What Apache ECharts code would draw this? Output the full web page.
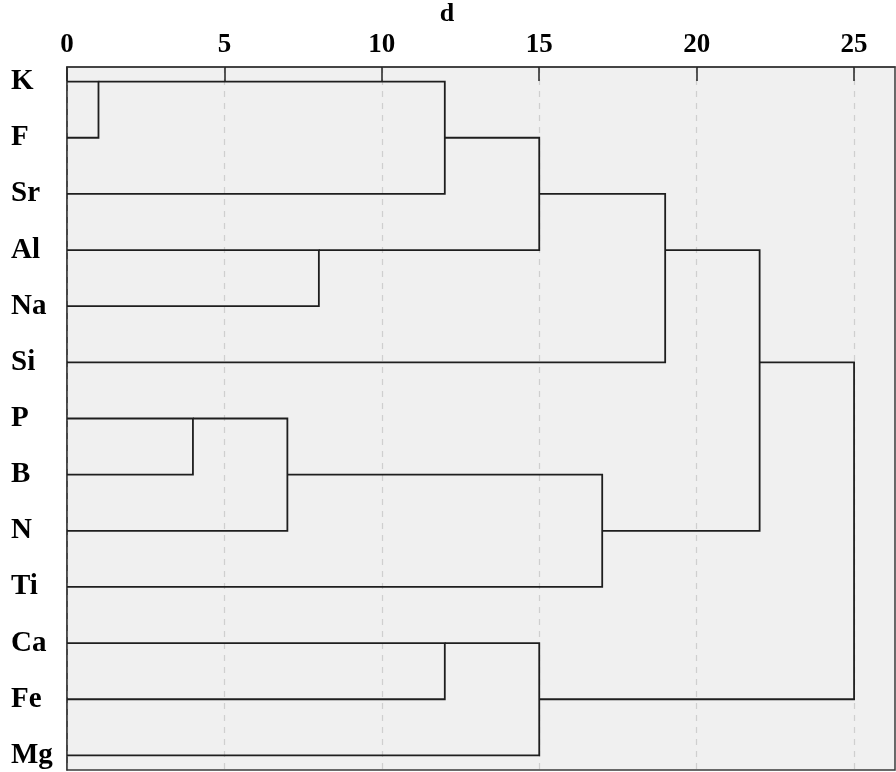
<!DOCTYPE html>
<html>
<head>
<meta charset="utf-8">
<script src="https://cdn.jsdelivr.net/npm/echarts@6/dist/echarts.min.js"></script>
<style>html,body{margin:0;padding:0;background:#fff;}#main{width:896px;height:772px;}</style>
</head>
<body>
<div id="main"></div>
<script>
// Leaves (top to bottom)
const categories = ['K','F','Sr','Al','Na','Si','P','B','N','Ti','Ca','Fe','Mg'];
// Merges: m0..m11
const mergeLeft   = ['K','m0','Al','m1','m3','P','m5','m6','m4','Ca','m9','m8'];
const mergeRight  = ['F','Sr','Na','m2','Si','B','N','Ti','m7','Fe','Mg','m10'];
const mergeDist   = [1, 12, 8, 15, 19, 4, 7, 17, 22, 12, 15, 25];
// leaf row at which each merged cluster's outgoing link is drawn
const mergeOutLeaf = ['K','F','Al','Sr','Al','P','B','N','Si','Ca','Fe','Si'];
const xTicks = [0, 5, 10, 15, 20, 25];

function nodeInfo(name) {
  if (name.startsWith('m')) {
    const i = +name.slice(1);
    return { row: categories.indexOf(mergeOutLeaf[i]), x: mergeDist[i] };
  }
  return { row: categories.indexOf(name), x: 0 };
}
const linkData = mergeDist.map((d, i) => {
  const l = nodeInfo(mergeLeft[i]);
  const r = nodeInfo(mergeRight[i]);
  return [l.row, l.x, r.row, r.x, d];
});

const font = 'Liberation Serif, Times New Roman, serif';
const chart = echarts.init(document.getElementById('main'));
chart.setOption({
  backgroundColor: '#ffffff',
  animation: false,
  grid: { left: 67, top: 67, right: 1, bottom: 2, show: true, containLabel: false,
          outerBoundsMode: 'none',
          backgroundColor: '#f0f0f0', borderColor: '#3a3a3a', borderWidth: 1.5 },
  xAxis: {
    type: 'value', position: 'top', min: 0, max: 26.3, interval: 5,
    name: 'd', nameLocation: 'middle', nameGap: 38,
    nameTextStyle: { fontFamily: font, fontWeight: 'bold', fontSize: 26, color: '#000', padding: [0, 68, 0, 0] },
    axisLine: { show: true, onZero: false, lineStyle: { color: '#3a3a3a', width: 1.5 } },
    axisTick: { show: true, inside: true, length: 14, lineStyle: { color: '#222', width: 1.5 },
                customValues: xTicks },
    axisLabel: { fontFamily: font, fontWeight: 'bold', fontSize: 27, color: '#000', margin: 8,
                 customValues: xTicks },
    splitLine: { show: true, lineStyle: { color: '#cfcfcf', type: [6, 6], width: 1.2 } }
  },
  yAxis: {
    type: 'value', inverse: true, min: -0.26, max: 12.26,
    axisLine: { show: true, onZero: false, lineStyle: { color: '#3a3a3a', width: 1.5 } },
    axisTick: { show: false }, splitLine: { show: false },
    axisLabel: {
      customValues: categories.map((c, i) => i),
      formatter: v => categories[Math.round(v)] || '',
      fontFamily: font, fontWeight: 'bold', fontSize: 29, color: '#000',
      align: 'left', margin: 56
    }
  },
  series: [{
    type: 'custom',
    coordinateSystem: 'cartesian2d',
    encode: { x: [1, 3, 4], y: [0, 2] },
    data: linkData,
    renderItem: function (params, api) {
      const lr = api.value(0), lx = api.value(1), rr = api.value(2), rx = api.value(3), d = api.value(4);
      const pts = [api.coord([lx, lr]), api.coord([d, lr]), api.coord([d, rr]), api.coord([rx, rr])];
      return { type: 'polyline', shape: { points: pts },
               style: { stroke: '#1e1e1e', lineWidth: 1.8, fill: null } };
    }
  }]
});
</script>
</body>
</html>
